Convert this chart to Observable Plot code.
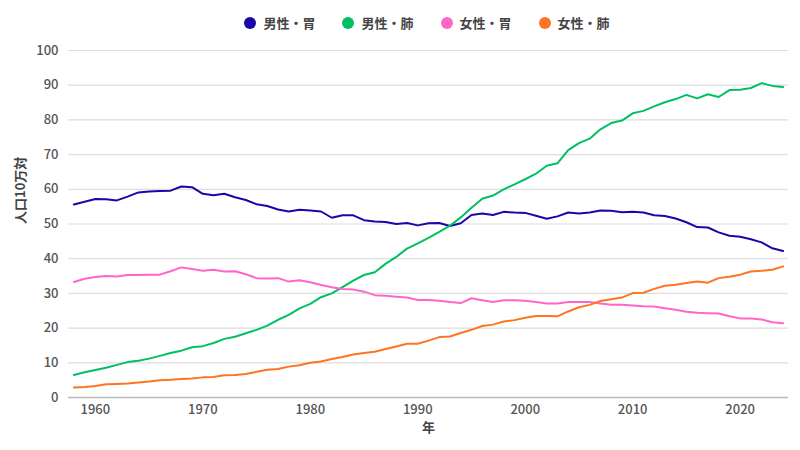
<!DOCTYPE html>
<html>
<head>
<meta charset="utf-8">
<script src="https://cdn.jsdelivr.net/npm/d3@7"></script>
<script src="https://cdn.jsdelivr.net/npm/@observablehq/plot@0.6"></script>
<style>
  body { margin: 0; background: #fff; font-family: "Noto Sans CJK JP", "Noto Sans", sans-serif; }
  #wrap { width: 800px; }
  #legend { box-sizing: border-box; width: 800px; height: 38px; padding-top: 15px; padding-left: 54px; display: flex; justify-content: center; gap: 27px; font-size: 13px; font-weight: bold; color: #444; }
  .item { display: flex; align-items: center; line-height: 16px; height: 16px; }
  .dot { width: 12px; height: 12px; border-radius: 50%; margin-right: 7px; }
</style>
</head>
<body>
<div id="wrap">
  <div id="legend"></div>
  <div id="chart"></div>
</div>
<script>
const years = d3.range(1958, 2025);
const seriesNames = ["男性・胃", "男性・肺", "女性・胃", "女性・肺"];
const seriesColors = ["#1c06a8", "#00c062", "#ff66c8", "#ff7420"];
const xTicks = [1960, 1970, 1980, 1990, 2000, 2010, 2020];
const yTicks = [0, 10, 20, 30, 40, 50, 60, 70, 80, 90, 100];

const maleStomach = [
  55.6,56.4,57.2,57.1,56.8,57.9,59.1,59.4,59.5,59.6,60.8,60.6,58.7,58.3,58.7,57.7,56.9,55.7,55.2,54.2,53.6,54.1,53.9,53.6,
  51.8,52.5,52.5,51.1,50.7,50.6,50.0,50.3,49.6,50.2,50.3,49.4,50.2,52.6,53.0,52.6,53.5,53.3,53.2,52.4,
  51.5,52.2,53.3,53.0,53.3,53.9,53.8,53.4,53.5,53.3,52.5,52.3,51.6,50.5,49.1,49.0,47.6,46.6,46.3,45.6,44.7,43.0,42.2
];
const maleLung = [
  6.5,7.3,7.9,8.6,9.4,10.2,10.6,11.2,12.0,12.8,13.5,14.5,14.8,15.7,16.9,17.5,18.5,19.5,20.7,22.4,23.8,25.7,27.0,28.9,
  30.0,31.8,33.7,35.3,36.1,38.5,40.5,42.9,44.4,46.0,47.7,49.5,51.9,54.7,57.3,58.2,60.0,61.4,62.9,64.5,
  66.8,67.5,71.3,73.3,74.6,77.3,79.1,79.8,81.9,82.6,83.9,85.1,86.0,87.2,86.2,87.4,86.6,88.6,88.7,89.2,90.6,89.8,89.5
];
const femaleStomach = [
  33.3,34.2,34.7,35.0,34.9,35.3,35.3,35.4,35.4,36.4,37.5,37.0,36.5,36.8,36.3,36.4,35.5,34.4,34.3,34.4,33.4,33.8,33.2,32.4,
  31.8,31.3,31.1,30.5,29.5,29.3,29.0,28.8,28.1,28.1,27.9,27.5,27.2,28.6,28.0,27.5,28.0,28.0,27.9,27.5,
  27.1,27.1,27.5,27.5,27.5,27.1,26.7,26.7,26.5,26.3,26.2,25.7,25.3,24.7,24.4,24.3,24.2,23.4,22.8,22.8,22.5,21.7,21.4
];
const femaleLung = [
  2.9,3.0,3.3,3.8,3.9,4.0,4.3,4.6,5.0,5.1,5.3,5.5,5.8,5.9,6.4,6.5,6.8,7.4,8.0,8.2,8.9,9.3,10.0,10.4,
  11.1,11.7,12.4,12.8,13.2,14.0,14.7,15.5,15.5,16.4,17.4,17.6,18.6,19.5,20.6,21.0,21.9,22.3,23.0,23.5,
  23.5,23.4,24.8,26.0,26.7,27.8,28.3,28.8,30.1,30.2,31.3,32.2,32.5,33.0,33.4,33.1,34.4,34.8,35.4,36.3,36.5,36.8,37.8
];

const allSeries = [maleStomach, maleLung, femaleStomach, femaleLung];
const data = [];
allSeries.forEach((vals, i) => {
  vals.forEach((v, j) => data.push({year: years[j], value: v, series: seriesNames[i]}));
});

// legend
const legend = document.getElementById("legend");
seriesNames.forEach((name, i) => {
  const it = document.createElement("div");
  it.className = "item";
  it.innerHTML = `<span class="dot" style="background:${seriesColors[i]}"></span><span>${name}</span>`;
  legend.appendChild(it);
});

const chart = Plot.plot({
  width: 800,
  height: 412,
  marginTop: 12,
  marginBottom: 53,
  marginLeft: 68,
  marginRight: 12,
  style: { fontFamily: '"Noto Sans CJK JP", "Noto Sans", sans-serif', fontSize: "13px", color: "#555" },
  x: { domain: [1957.5, 2024.5] },
  y: { domain: [0, 100] },
  color: { domain: seriesNames, range: seriesColors },
  marks: [
    Plot.gridY(yTicks.filter(d => d > 0), { stroke: "#ddd", strokeOpacity: 1, strokeWidth: 1.2 }),
    Plot.ruleY([0], { stroke: "#bbb", strokeWidth: 1.5 }),
    Plot.axisY(yTicks, { tickSize: 0, tickPadding: 10, label: null, fontSize: 13, fontWeight: 500, fill: "#555" }),
    Plot.axisX(xTicks, { tickSize: 0, tickPadding: 7, tickFormat: d => String(d), label: null, fontSize: 13, fontWeight: 500, fill: "#555" }),
    Plot.text(["人口10万対"], { frameAnchor: "left", dx: -48, rotate: -90, fontSize: 13, fontWeight: "bold", fill: "#444" }),
    Plot.text(["年"], { frameAnchor: "bottom", dy: 34, fontSize: 13, fontWeight: "bold", fill: "#444" }),
    Plot.line(data, { x: "year", y: "value", z: "series", stroke: "series", strokeWidth: 2 })
  ]
});
document.getElementById("chart").appendChild(chart);
</script>
</body>
</html>
